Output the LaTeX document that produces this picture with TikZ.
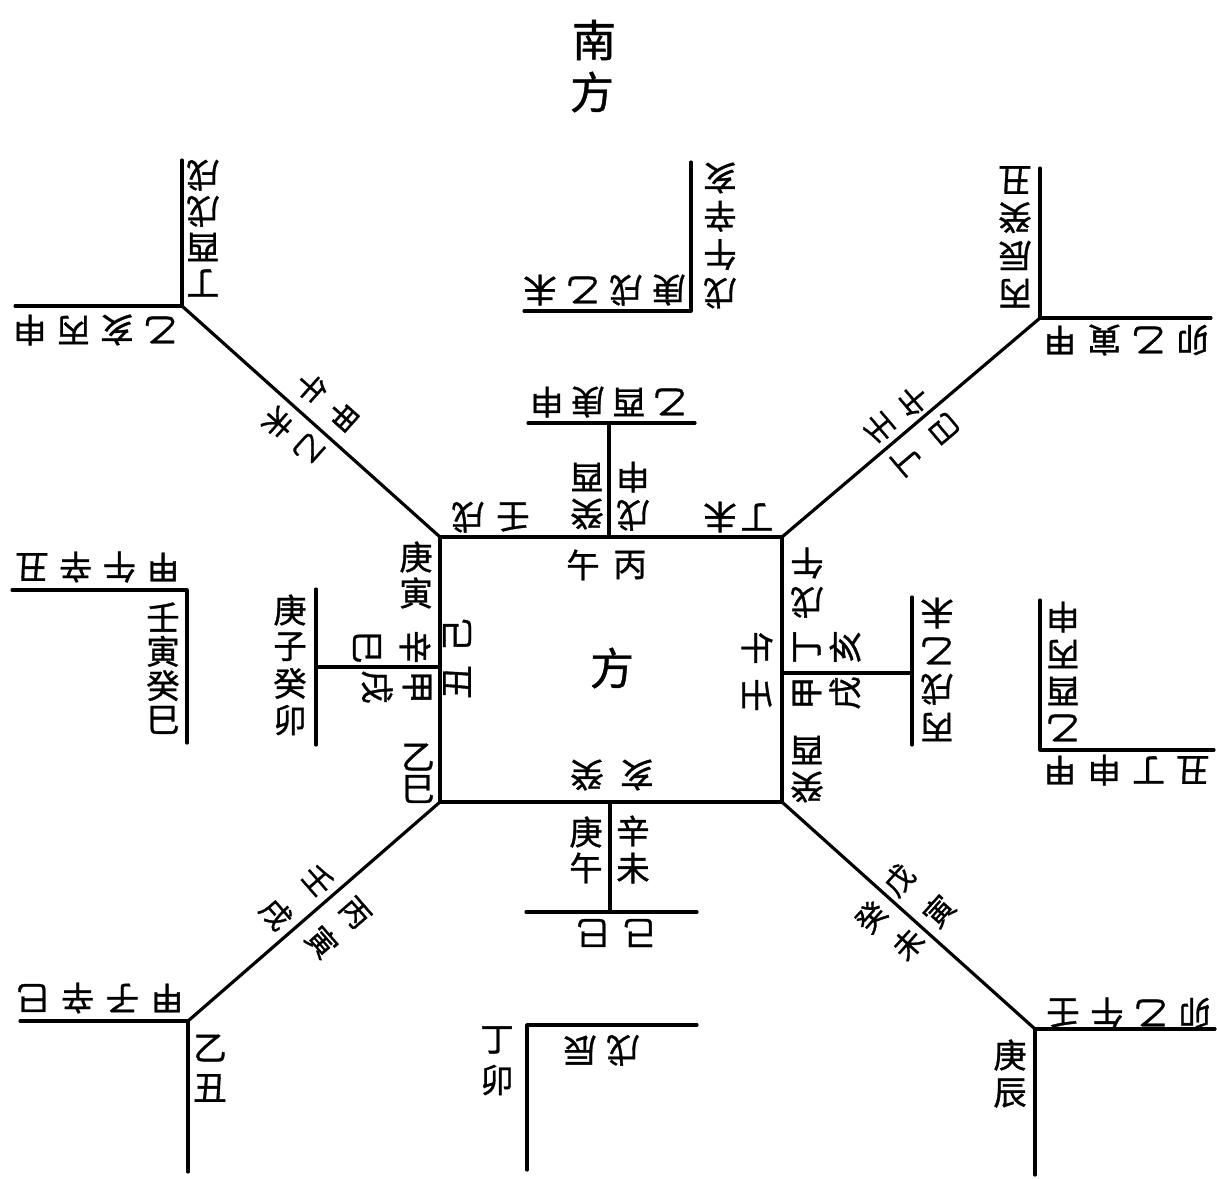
\documentclass[tikz,border=0pt]{standalone}
\usepackage{fontspec}
\newfontfamily\cjk{Noto Sans CJK SC}[FakeBold=1]
\tikzset{
  ch/.style={inner sep=0pt, font=\cjk\fontsize{19}{19}\selectfont},
  dg/.style={inner sep=0pt, font=\cjk\fontsize{17}{17}\selectfont},
  big/.style={inner sep=0pt, font=\cjk\fontsize{25}{25}\selectfont},
  ln/.style={line width=1.8pt, line cap=round, line join=round}
}
% name, x0, y0, dx, dy, rotation, list of characters
\newcommand\grp[7]{%
  \foreach \c [count=\i from 0] in {#7}{%
    \node[ch,rotate=#6] (#1\i) at ({#2+\i*#4},{#3+\i*#5}) {\c};}}
\begin{document}
\begin{tikzpicture}[x=0.02cm,y=-0.02cm]
\useasboundingbox (0,0) rectangle (1217,1178);
% ---------- coordinates ----------
\coordinate (A) at (440,537); \coordinate (B) at (782,537);
\coordinate (C) at (782,802); \coordinate (D) at (440,802);
\coordinate (P1) at (182,306); \coordinate (P1t) at (182,160); \coordinate (P1l) at (15,306);
\coordinate (P2) at (1040,318); \coordinate (P2t) at (1040,168); \coordinate (P2r) at (1211,318);
\coordinate (P3) at (188,1021); \coordinate (P3l) at (20,1021); \coordinate (P3b) at (188,1172);
\coordinate (P4) at (1035,1029); \coordinate (P4r) at (1215,1029); \coordinate (P4b) at (1035,1175);
\coordinate (TT0) at (609,537); \coordinate (TT1) at (609,423);
\coordinate (TTl) at (528,423); \coordinate (TTr) at (695,423);
\coordinate (TL0) at (691,162); \coordinate (TL1) at (691,311); \coordinate (TL2) at (524,311);
\coordinate (BT0) at (610,802); \coordinate (BT1) at (610,912);
\coordinate (BTl) at (526,912); \coordinate (BTr) at (697,912);
\coordinate (BL0) at (697,1025); \coordinate (BL1) at (527,1025); \coordinate (BL2) at (527,1170);
\coordinate (LT0) at (316,589); \coordinate (LT1) at (316,745); \coordinate (LTm) at (316,667); \coordinate (LTs) at (440,667);
\coordinate (LL0) at (12,590); \coordinate (LL1) at (187,590); \coordinate (LL2) at (187,743);
\coordinate (RTs) at (782,673); \coordinate (RTm) at (912,673); \coordinate (RT0) at (912,597); \coordinate (RT1) at (912,745);
\coordinate (RL0) at (1040,600); \coordinate (RL1) at (1040,750); \coordinate (RL2) at (1214,750);
% ---------- lines ----------
\draw[ln] (A) -- (B) -- (C) -- (D) -- cycle;
\draw[ln] (A) -- (P1); \draw[ln] (P1t) -- (P1) -- (P1l);
\draw[ln] (B) -- (P2); \draw[ln] (P2t) -- (P2) -- (P2r);
\draw[ln] (D) -- (P3); \draw[ln] (P3l) -- (P3) -- (P3b);
\draw[ln] (C) -- (P4); \draw[ln] (P4r) -- (P4) -- (P4b);
\draw[ln] (TT0) -- (TT1); \draw[ln] (TTl) -- (TTr);
\draw[ln] (TL0) -- (TL1) -- (TL2);
\draw[ln] (BT0) -- (BT1); \draw[ln] (BTl) -- (BTr);
\draw[ln] (BL0) -- (BL1) -- (BL2);
\draw[ln] (LT0) -- (LT1); \draw[ln] (LTm) -- (LTs);
\draw[ln] (LL0) -- (LL1) -- (LL2);
\draw[ln] (RTs) -- (RTm); \draw[ln] (RT0) -- (RT1);
\draw[ln] (RL0) -- (RL1) -- (RL2);
% ---------- titles ----------
\node[big] (t1) at (594,40) {南};
\node[big] (t2) at (592,92) {方};
\node[big] (ctr) at (612,668) {方};
% ---------- top-left ----------
\grp{tlv}{203}{175}{0}{36}{180}{戌,戊,酉,丁}
\grp{tlh}{30}{330}{43.5}{0}{180}{申,丙,亥,乙}
\node[dg,rotate=-131.7] (nw1) at (311,388) {午};
\node[dg,rotate=-131.7] (nw2) at (343,416) {甲};
\node[dg,rotate=-131.7] (nw3) at (278,423) {未};
\node[dg,rotate=-131.7] (nw4) at (309,449) {乙};
% ---------- top-centre ----------
\grp{tclv}{720}{178}{0}{38.3}{180}{亥,辛,午,戊}
\grp{tclh}{540}{290}{43}{0}{180}{未,乙,戌,庚}
\grp{tcth}{547}{402}{41}{0}{180}{申,庚,酉,乙}
\grp{tctl}{587}{477}{0}{37}{180}{酉,癸}
\grp{tctr}{633}{477}{0}{38}{180}{申,戊}
\grp{sqtl}{468}{517}{45}{0}{180}{戌,壬}
\grp{sqtr}{720}{517}{37}{0}{180}{未,丁}
\grp{sqti}{583}{565}{47}{0}{0}{午,丙}
% ---------- top-right ----------
\node[dg,rotate=130.3] (ne1) at (879,428) {壬};
\node[dg,rotate=130.3] (ne2) at (913,401) {午};
\node[dg,rotate=130.3] (ne3) at (907,460) {丁};
\node[dg,rotate=130.3] (ne4) at (944,429) {巳};
\grp{trv}{1015}{180}{0}{37.7}{180}{丑,癸,辰,丙}
\grp{trh}{1060}{340}{44.3}{0}{180}{甲,寅,乙,卯}
% ---------- left ----------
\grp{llh}{32}{567}{43.7}{0}{180}{丑,辛,午,甲}
\grp{llv}{163}{617}{0}{34.3}{0}{壬,寅,癸,巳}
\grp{ltv}{290}{610}{0}{36.7}{0}{庚,子,癸,卯}
\grp{lta}{367}{647}{48}{0}{-90}{巳,辛}
\grp{ltb}{377}{687}{40}{0}{-90}{戌,甲}
\grp{sqla}{416}{557}{0}{36}{0}{庚,寅}
\grp{sqlb}{418}{757}{0}{32}{0}{乙,巳}
\grp{sqli}{457}{635}{0}{47}{90}{己,丑}
% ---------- right ----------
\grp{sqra}{807}{563}{0}{39}{180}{午,戊}
\grp{rta}{807}{647}{38}{0}{90}{丁,亥}
\grp{rtb}{807}{693}{38}{0}{90}{甲,戌}
\grp{rtv}{937}{613}{0}{38}{180}{未,乙,戌,丙}
\grp{sqri}{757}{648}{0}{47}{-90}{午,壬}
\grp{sqrb}{807}{750}{0}{37}{180}{酉,癸}
\grp{frv}{1063}{617}{0}{37}{180}{申,丙,酉,乙}
\grp{frh}{1060}{770}{44.3}{0}{180}{甲,申,丁,丑}
% ---------- bottom ----------
\grp{sqbi}{587}{775}{50}{0}{180}{癸,亥}
\grp{btl}{586}{832}{0}{36}{0}{庚,午}
\grp{btr}{633}{831}{0}{37}{0}{辛,未}
\grp{btb}{593}{933}{47}{0}{180}{巳,己}
\grp{bcl}{497}{1040}{0}{40}{0}{丁,卯}
\grp{bcr}{580}{1050}{43}{0}{180}{辰,戊}
\node[dg,rotate=-48.9] (sw1) at (318,880) {壬};
\node[dg,rotate=-48.9] (sw2) at (276,914) {戌};
\node[dg,rotate=-48.9] (sw3) at (355,913) {丙};
\node[dg,rotate=-48.9] (sw4) at (322,942) {寅};
\node[dg,rotate=48.2] (se1) at (899,880) {戊};
\node[dg,rotate=48.2] (se2) at (939,911) {寅};
\node[dg,rotate=48.2] (se3) at (871,917) {癸};
\node[dg,rotate=48.2] (se4) at (908,944) {未};
\grp{blh}{33}{998}{44.7}{0}{180}{巳,辛,子,甲}
\grp{blv}{210}{1048}{0}{40}{0}{乙,丑}
\grp{brh}{1063}{1013}{44}{0}{180}{壬,午,乙,卯}
\grp{brv}{1010}{1055}{0}{38}{0}{庚,辰}
\end{tikzpicture}
\end{document}
